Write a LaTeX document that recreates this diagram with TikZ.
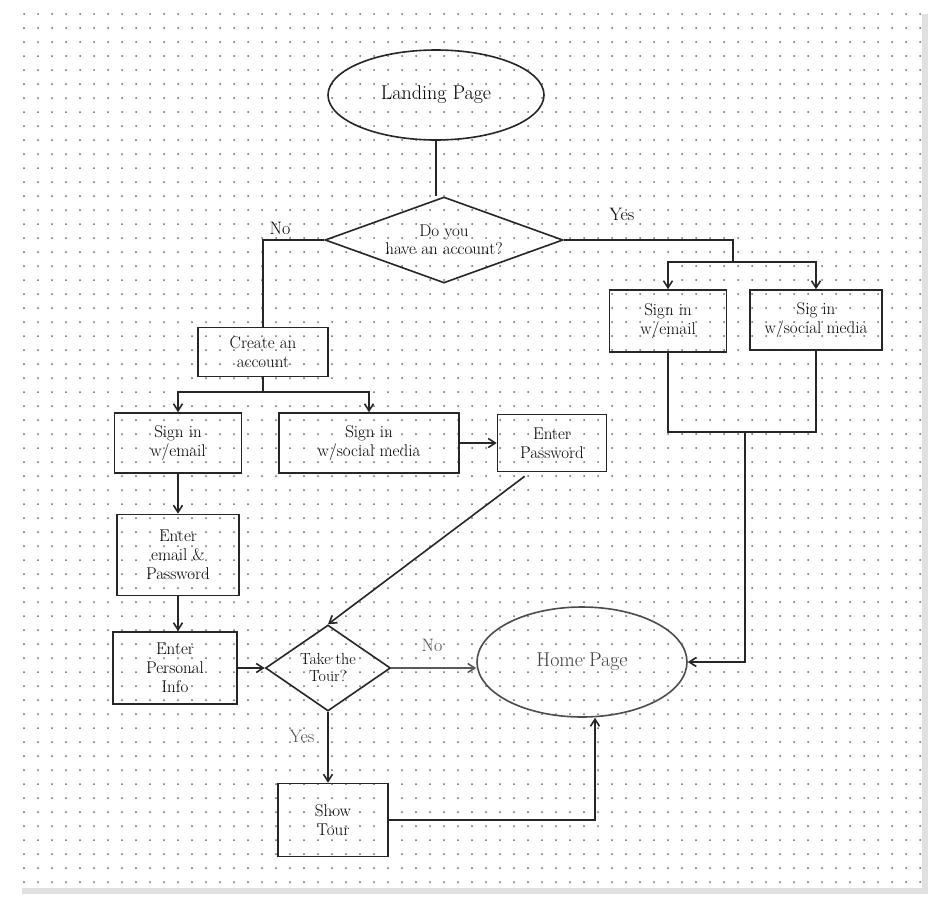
\documentclass[tikz,border=0pt]{standalone}
\usetikzlibrary{shapes.geometric,arrows.meta}
\begin{document}
\begin{tikzpicture}[x=1pt,y=-1pt,
  pen/.style={line width=1.6pt,draw=black!85},
  box/.style={pen,rectangle,align=center,inner sep=0pt,font=\fontsize{17}{19}\selectfont},
  arr/.style={pen,-{Straight Barb[length=7pt,width=9pt]}},
  lab/.style={font=\fontsize{18}{20}\selectfont}]
\useasboundingbox (0,0) rectangle (939,918);
\fill[black!12] (22,14) rectangle (928,894);
\fill[white] (16,6) rectangle (922,888);
\foreach \i in {0,...,64}{\foreach \j in {0,...,62}{
  \fill[black!60] (24+\i*14,14+\j*14) circle (1.0);}}
% nodes
\node[pen,ellipse,minimum width=216,minimum height=90,font=\fontsize{20}{22}\selectfont] (lp) at (436,95) {Landing Page};
\node[pen,diamond,aspect=2.8,minimum width=238,minimum height=86,inner sep=0pt,align=center,font=\fontsize{17}{18}\selectfont] (acc) at (444,240) {Do you\\have an account?};
\node[box,minimum width=130,minimum height=49] (ca) at (263,352) {Create an\\account};
\node[box,minimum width=117,minimum height=62] (rse) at (668,321) {Sign in\\w/email};
\node[box,minimum width=132,minimum height=60] (rss) at (816,320) {Sig in\\w/social media};
\node[box,minimum width=127,minimum height=60] (lse) at (178,443) {Sign in\\w/email};
\node[box,minimum width=180,minimum height=60] (lss) at (369,443) {Sign in\\w/social media};
\node[box,minimum width=109,minimum height=57] (ep) at (552,443) {Enter\\Password};
\node[box,minimum width=122,minimum height=81] (eep) at (178,555) {Enter\\email \&\\Password};
\node[box,minimum width=124,minimum height=72] (epi) at (175,668) {Enter\\Personal\\Info};
\node[pen,diamond,aspect=1.45,minimum width=125,minimum height=86,inner sep=0pt,align=center,font=\fontsize{16}{17}\selectfont] (tt) at (328,668) {Take the\\Tour?};
\node[pen,ellipse,draw=black!70,minimum width=210,minimum height=110,font=\fontsize{20}{22}\selectfont,text=black!75] (hp) at (582,662) {Home Page};
\node[box,minimum width=110,minimum height=73] (st) at (333,820) {Show\\Tour};
\coordinate (sp) at (733,262);
\coordinate (cj) at (263,392);
\coordinate (rj) at (745,432);
% connectors
\draw[pen] (lp.south) -- (lp.south |- acc.north);
\draw[pen] (acc.west) -| (ca.north);
\node[lab] at (280,228) {No};
\draw[pen] (acc.east) -| (sp);
\node[lab] at (622,214) {Yes};
\draw[arr] (sp) -| (rse.north);
\draw[arr] (sp) -| (rss.north);
\draw[pen] (rse.south) |- (rj) -| (rss.south);
\draw[arr] (rj) |- (hp.east);
\draw[pen] (ca.south) -- (cj);
\draw[arr] (cj) -| (lse.north);
\draw[arr] (cj) -| (lss.north);
\draw[arr] (lss.east) -- (ep.west);
\draw[arr] (ep.south west) ++(28,4) -- (tt.north);
\draw[arr] (lse.south) -- (eep.north);
\draw[arr] (eep.south) -- (epi.north -| eep.south);
\draw[arr] (epi.east) -- (tt.west);
\draw[arr,draw=black!65] (tt.east) -- (hp.west |- tt.east);
\node[lab,text=black!70] at (432,645) {No};
\draw[arr] (tt.south) -- (st.north -| tt.south);
\node[lab,text=black!70] at (302,736) {Yes};
\draw[arr] (st.east) -| (hp.south -| 595,0);
\end{tikzpicture}
\end{document}
